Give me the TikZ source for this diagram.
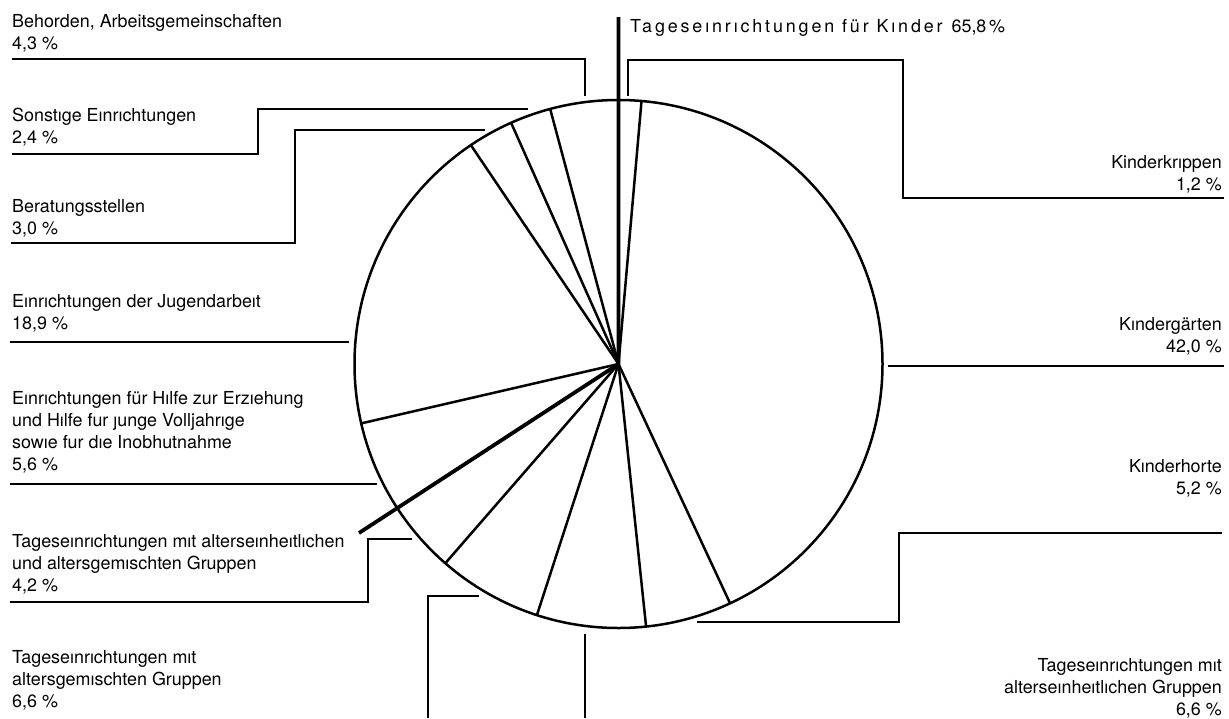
\documentclass[tikz,border=0pt]{standalone}
\usepackage{fontspec}
\setmainfont{TeX Gyre Heros}
\newcommand\lblfont{\fontsize{17.9}{22}\selectfont}
\begin{document}
\begin{tikzpicture}[x=1pt,y=-1pt,
  lead/.style={line width=1.5pt},
  slice/.style={line width=2.5pt},
  heavy/.style={line width=3.8pt, line join=round},
  lbl/.style={inner sep=0pt, align=left, anchor=north west, font=\lblfont},
  lblr/.style={inner sep=0pt, align=right, anchor=north east, font=\lblfont}]
\useasboundingbox (0,0) rectangle (1229,718);

% pie
\coordinate (c) at (618.5,364);
\node[draw, circle, line width=2.5pt, minimum size=528pt, inner sep=0pt, outer sep=0pt] (pie) at (c) {};
\foreach \a in {85.68,-65.52,-84.24,-108,-131.76,-167.04,124.92,114.12,105.48}
  \draw[slice] (c) -- (pie.\a);
\coordinate (top) at (618.5,17);
\coordinate (ext) at (359,533);
\draw[heavy] (top) -- (c) -- (ext);

% title
\node[anchor=base west, inner sep=0pt, font=\lblfont] (title) at (630,32)
  {{\addfontfeature{LetterSpace=16}Tageseınrıchtungen für Kınder}\hspace{0.5em}65,8\hspace{0.15em}\%};

% left labels
\node[lbl] (behoerden) at (12,27-15.4) {\strut Behorden, Arbeitsgemeinschaften\\4,3 \%};
\node[lbl] (sonstige) at (12,121-15.4) {\strut Sonstıge Eınrıchtungen\\2,4 \%};
\node[lbl] (beratung) at (12,212-15.4) {\strut Beratungsstellen\\3,0 \%};
\node[lbl] (jugend) at (12,307-15.4) {\strut Eınrıchtungen der Jugendarbeıt\\18,9 \%};
\node[lbl] (hilfe) at (12,404-15.4) {\strut Eınrıchtungen für Hılfe zur Erzıehung\\und Hılfe fur ȷunge Volljahrıge\\sowıe fur dıe Inobhutnahme\\5,6 \%};
\node[lbl] (gemischtein) at (12,547-15.4) {\strut Tageseınrıchtungen mıt alterseınheıtlıchen\\und altersgemıschten Gruppen\\4,2 \%};
\node[lbl] (gemischt) at (12,663-15.4) {\strut Tageseınrıchtungen mıt\\altersgemıschten Gruppen\\6,6 \%};

% right labels
\node[lblr] (krippen) at (1222,168-15.4) {\strut Kinderkrıppen\\1,2 \%};
\node[lblr] (garten) at (1222,330-15.4) {\strut Kındergärten\\42,0 \%};
\node[lblr] (horte) at (1222,472-15.4) {\strut Kınderhorte\\5,2 \%};
\node[lblr] (einheit) at (1222,671-15.4) {\strut Tageseınrıchtungen mıt\\alterseınheıtlıchen Gruppen\\6,6 \%};

% leader lines
\coordinate (l1s) at (12,59);   \coordinate (l1e) at (585,96);
\draw[lead] (l1s) -| (l1e);
\coordinate (l2s) at (12,154);  \coordinate (l2k) at (258,109); \coordinate (l2e) at (528,109);
\draw[lead] (l2s) -| (l2k) -- (l2e);
\coordinate (l3s) at (11,243);  \coordinate (l3k) at (295,130); \coordinate (l3e) at (485,130);
\draw[lead] (l3s) -| (l3k) -- (l3e);
\coordinate (l4s) at (10,342);  \coordinate (l4e) at (349,342);
\draw[lead] (l4s) -- (l4e);
\coordinate (l5s) at (10,484);  \coordinate (l5e) at (377,484);
\draw[lead] (l5s) -- (l5e);
\coordinate (l6s) at (10,602);  \coordinate (l6k) at (368,539); \coordinate (l6e) at (412,539);
\draw[lead] (l6s) -| (l6k) -- (l6e);
\coordinate (l7s) at (428,718); \coordinate (l7e) at (479,596);
\draw[lead] (l7s) |- (l7e);
\coordinate (l8s) at (585,718); \coordinate (l8e) at (585,634);
\draw[lead] (l8s) -- (l8e);
\coordinate (r3s) at (1222,533); \coordinate (r3k) at (899,622); \coordinate (r3e) at (697,622);
\draw[lead] (r3s) -| (r3k) -- (r3e);
\coordinate (r2s) at (1224,366); \coordinate (r2e) at (888,366);
\draw[lead] (r2s) -- (r2e);
\coordinate (r1s) at (1224,198); \coordinate (r1k) at (903,60); \coordinate (r1e) at (628,96);
\draw[lead] (r1s) -| (r1k) -| (r1e);
\end{tikzpicture}
\end{document}
